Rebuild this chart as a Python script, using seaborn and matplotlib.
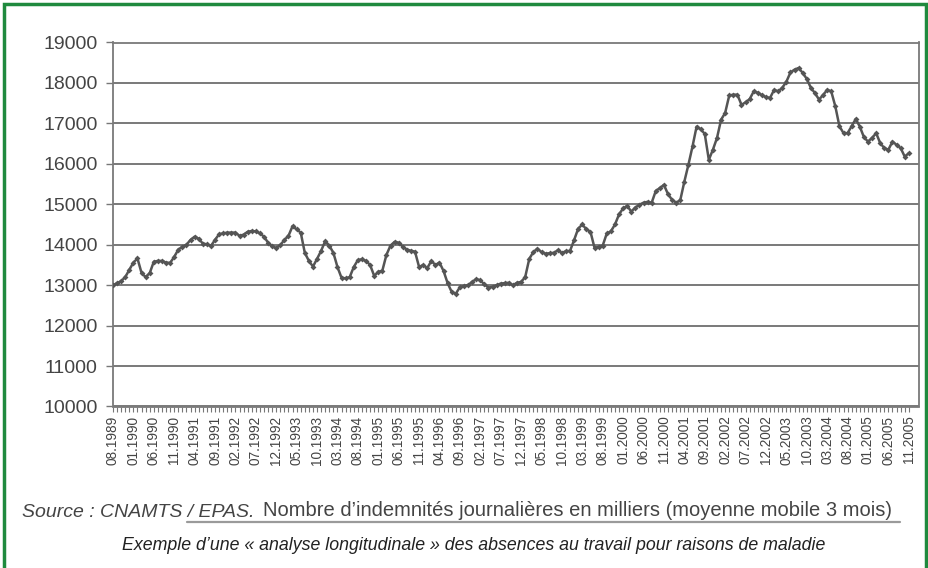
import matplotlib
matplotlib.use('Agg')
import numpy as np
import pandas as pd
import seaborn as sns
import matplotlib.pyplot as plt
from matplotlib.patches import Rectangle
from matplotlib.lines import Line2D

# monthly values (thousands of daily allowances, 3-month moving average), 08.1989 -> 11.2005
values = [
    13000, 13050, 13100, 13200, 13380, 13560, 13660, 13300, 13200, 13300,
    13580, 13600, 13600, 13560, 13550, 13700, 13880, 13950, 14000, 14120,
    14200, 14150, 14030, 14010, 13970, 14120, 14260, 14280, 14300, 14300,
    14300, 14220, 14250, 14320, 14340, 14330, 14280, 14200, 14050, 13960,
    13920, 13990, 14120, 14220, 14460, 14380, 14300, 13800, 13600, 13460,
    13650, 13850, 14090, 13980, 13800, 13450, 13180, 13170, 13200, 13450,
    13620, 13640, 13600, 13500, 13230, 13330, 13360, 13750, 13980, 14070,
    14050, 13950, 13880, 13850, 13830, 13450, 13500, 13420, 13600, 13500,
    13560, 13350, 13050, 12830, 12790, 12950, 12980, 13000, 13080, 13150,
    13120, 13020, 12940, 12960, 13000, 13040, 13050, 13060, 13000, 13060,
    13080, 13200, 13650, 13820, 13900, 13820, 13780, 13790, 13800, 13860,
    13800, 13840, 13850, 14120, 14400, 14500, 14380, 14320, 13920, 13950,
    13980, 14280, 14330, 14500, 14750, 14900, 14960, 14820, 14920, 14990,
    15040, 15060, 15040, 15330, 15400, 15480, 15250, 15110, 15040, 15100,
    15560, 15980, 16430, 16920, 16860, 16740, 16100, 16350, 16640, 17090,
    17260, 17690, 17710, 17710, 17460, 17520, 17600, 17790, 17760, 17700,
    17650, 17630, 17830, 17790, 17880, 18030, 18260, 18330, 18370, 18250,
    18100, 17880, 17750, 17590, 17700, 17830, 17790, 17420, 16930, 16760,
    16760, 16930, 17110, 16920, 16660, 16550, 16640, 16760, 16510, 16390,
    16350, 16550, 16470, 16390, 16180, 16260,
]

tick_labels = [
    '08.1989', '01.1990', '06.1990', '11.1990', '04.1991', '09.1991', '02.1992', '07.1992',
    '12.1992', '05.1993', '10.1993', '03.1994', '08.1994', '01.1995', '06.1995', '11.1995',
    '04.1996', '09.1996', '02.1997', '07.1997', '12.1997', '05.1998', '10.1998', '03.1999',
    '08.1999', '01.2000', '06.2000', '11.2000', '04.2001', '09.2001', '02.2002', '07.2002',
    '12.2002', '05.2003', '10.2003', '03.2004', '08.2004', '01.2005', '06.2005', '11.2005',
]

df = pd.DataFrame({'month': np.arange(len(values)), 'value': values})

sns.set_style('white')
plt.rcParams['font.family'] = ['Liberation Sans', 'DejaVu Sans']

fig = plt.figure(figsize=(9.29, 5.68), dpi=100)
ax = fig.add_axes([113 / 929, 1 - 406.5 / 568, (919 - 113) / 929, (406.5 - 42.5) / 568])

sns.lineplot(data=df, x='month', y='value', ax=ax, color='#555555', linewidth=1.8,
             marker='D', markersize=3, markeredgewidth=0, zorder=3)

ax.set_xlim(0, 197.5)
ax.set_ylim(10000, 19000)
ax.set_yticks(np.arange(10000, 19001, 1000))
ax.yaxis.grid(True, color='#6e6e6e', linewidth=1.3)
ax.set_axisbelow(True)

ax.set_xticks(np.arange(0, len(values), 5))
ax.set_xticklabels(tick_labels, rotation=90, fontsize=9.8, color='#444444')
ax.set_xticks(np.arange(0, len(values)), minor=True)
ax.tick_params(axis='x', which='both', direction='out', length=3.5, width=0.8,
               color='#777777', bottom=True, pad=3)
ax.tick_params(axis='y', direction='out', length=5, width=1, color='#777777',
               left=True, labelsize=14, labelcolor='#444444', pad=6)
ax.set_xlabel('')
ax.set_ylabel('')
for s in ax.spines.values():
    s.set_color('#7a7a7a')
    s.set_linewidth(1.3)

# bottom texts
fig.text(22 / 929, 1 - 517 / 568, 'Source : CNAMTS / EPAS.', fontsize=14, style='italic',
         color='#444444', va='baseline')
fig.text(263 / 929, 1 - 516 / 568,
         "Nombre d\u2019indemnit\u00e9s journali\u00e8res en milliers (moyenne mobile 3 mois)",
         fontsize=14.5, color='#444444', va='baseline')
fig.add_artist(Line2D([187 / 929, 900 / 929], [1 - 522 / 568, 1 - 522 / 568],
                      color='#9a9a9a', linewidth=1.6))
fig.text(474 / 929, 1 - 550 / 568,
         "Exemple d\u2019une \u00ab analyse longitudinale \u00bb des absences au travail pour raisons de maladie",
         fontsize=12.8, style='italic', color='#222222', ha='center', va='baseline')

# green frame
fig.add_artist(Rectangle((4 / 929, -0.05), 922 / 929, 1.05 - 4 / 568, fill=False,
                         edgecolor='#1f8a3e', linewidth=2.5, transform=fig.transFigure))

fig.savefig('out.png', dpi=100)
